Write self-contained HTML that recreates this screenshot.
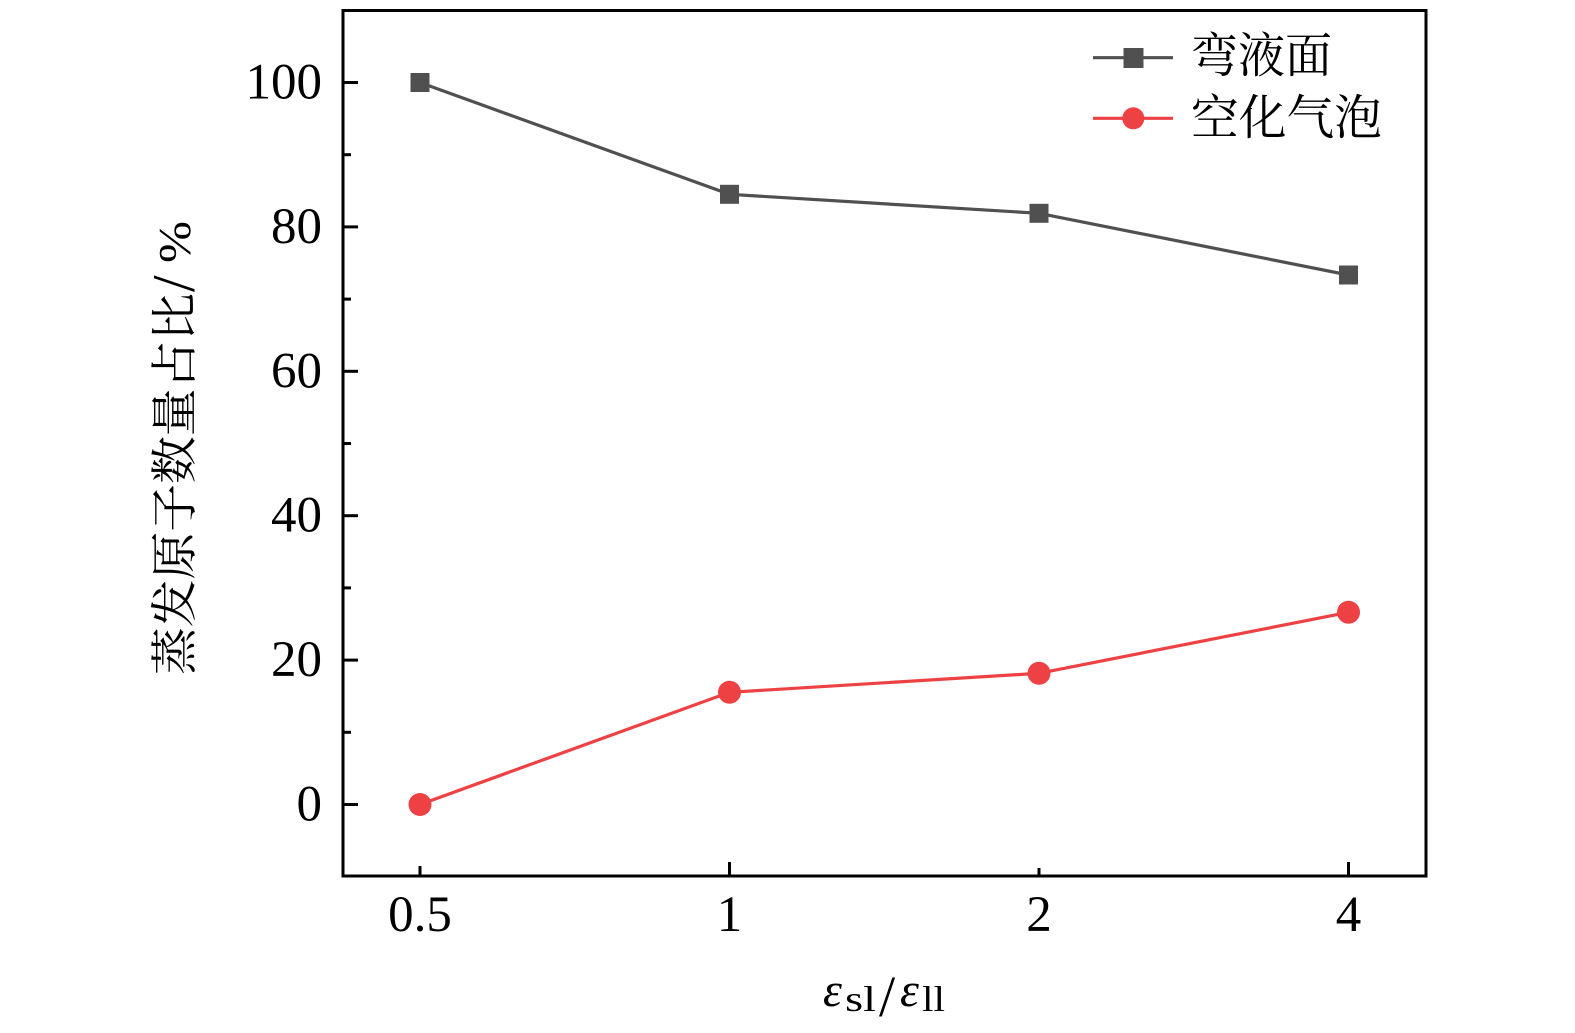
<!DOCTYPE html>
<html>
<head>
<meta charset="utf-8">
<style>
html,body{margin:0;padding:0;background:#fff;}
svg{display:block;}
</style>
</head>
<body>
<svg width="1575" height="1033" viewBox="0 0 1575 1033" xmlns="http://www.w3.org/2000/svg">
<rect width="1575" height="1033" fill="#fff"/>
<!-- frame -->
<rect x="343" y="10.5" width="1083" height="865.5" fill="none" stroke="#000" stroke-width="3"/>
<!-- y major ticks -->
<g stroke="#000" stroke-width="3">
<line x1="343" y1="804.5" x2="358" y2="804.5"/>
<line x1="343" y1="660.1" x2="358" y2="660.1"/>
<line x1="343" y1="515.7" x2="358" y2="515.7"/>
<line x1="343" y1="371.3" x2="358" y2="371.3"/>
<line x1="343" y1="226.9" x2="358" y2="226.9"/>
<line x1="343" y1="82.5" x2="358" y2="82.5"/>
<!-- minor -->
<line x1="343" y1="732.3" x2="351" y2="732.3"/>
<line x1="343" y1="587.9" x2="351" y2="587.9"/>
<line x1="343" y1="443.5" x2="351" y2="443.5"/>
<line x1="343" y1="299.1" x2="351" y2="299.1"/>
<line x1="343" y1="154.7" x2="351" y2="154.7"/>
<!-- x ticks -->
<line x1="420" y1="876" x2="420" y2="866"/>
<line x1="729.5" y1="876" x2="729.5" y2="862"/>
<line x1="1039" y1="876" x2="1039" y2="868"/>
<line x1="1348.5" y1="876" x2="1348.5" y2="862"/>
</g>
<!-- y tick labels -->
<g font-family="'Liberation Serif', serif" font-size="51" fill="#000" text-anchor="end">
<text x="322" y="820.5">0</text>
<text x="322" y="676.1">20</text>
<text x="322" y="531.7">40</text>
<text x="322" y="387.3">60</text>
<text x="322" y="242.9">80</text>
<text x="322" y="98.5">100</text>
</g>
<!-- x tick labels -->
<g font-family="'Liberation Serif', serif" font-size="51" fill="#000" text-anchor="middle">
<text x="420" y="931">0.5</text>
<text x="729.5" y="931">1</text>
<text x="1039" y="931">2</text>
<text x="1348.5" y="931">4</text>
</g>
<!-- series gray -->
<polyline points="420,82.5 729.5,194.3 1039,213.3 1348.5,275" fill="none" stroke="#505050" stroke-width="3.2"/>
<g fill="#505050">
<rect x="410.5" y="73" width="19" height="19"/>
<rect x="720" y="184.8" width="19" height="19"/>
<rect x="1029.5" y="203.8" width="19" height="19"/>
<rect x="1339" y="265.5" width="19" height="19"/>
</g>
<!-- series red -->
<polyline points="420,804.5 729.5,692.3 1039,673.3 1348.5,612.3" fill="none" stroke="#ee4144" stroke-width="3.2"/>
<g fill="#ee4144">
<circle cx="420" cy="804.5" r="11.5"/>
<circle cx="729.5" cy="692.3" r="11.5"/>
<circle cx="1039" cy="673.3" r="11.5"/>
<circle cx="1348.5" cy="612.3" r="11.5"/>
</g>
<!-- legend -->
<line x1="1093" y1="57.7" x2="1173" y2="57.7" stroke="#505050" stroke-width="3.2"/>
<rect x="1123.5" y="48" width="20" height="20" fill="#505050"/>
<line x1="1093" y1="118.3" x2="1173" y2="118.3" stroke="#ee4144" stroke-width="3.2"/>
<circle cx="1133.3" cy="118.3" r="11" fill="#ee4144"/>
<g font-family="'Noto Serif CJK SC','Liberation Serif',serif" font-size="48" fill="#000">
<text x="1191" y="72" textLength="141" lengthAdjust="spacingAndGlyphs">弯液面</text>
<text x="1191" y="134" textLength="191" lengthAdjust="spacingAndGlyphs">空化气泡</text>
</g>
<!-- y axis label -->
<g transform="translate(191,675) rotate(-90)" fill="#000">
<text x="0" y="0" font-family="'Noto Serif CJK SC','Liberation Serif',serif" font-size="47" textLength="382" lengthAdjust="spacingAndGlyphs">蒸发原子数量占比</text>
<text x="383" y="3" font-family="'Liberation Serif', serif" font-size="60">/</text>
<text x="412" y="-1" font-family="'Liberation Serif', serif" font-size="46" textLength="42" lengthAdjust="spacingAndGlyphs">%</text>
</g>
<!-- x axis label -->
<g font-family="'Liberation Serif', serif" fill="#000">
<text x="823" y="1006" font-size="48" font-style="italic">ε</text>
<text x="845" y="1011" font-size="36" textLength="31" lengthAdjust="spacingAndGlyphs">sl</text>
<text x="879" y="1016" font-size="58">/</text>
<text x="900" y="1006" font-size="48" font-style="italic">ε</text>
<text x="922" y="1011" font-size="36" textLength="23" lengthAdjust="spacingAndGlyphs">ll</text>
</g>
</svg>
</body>
</html>
